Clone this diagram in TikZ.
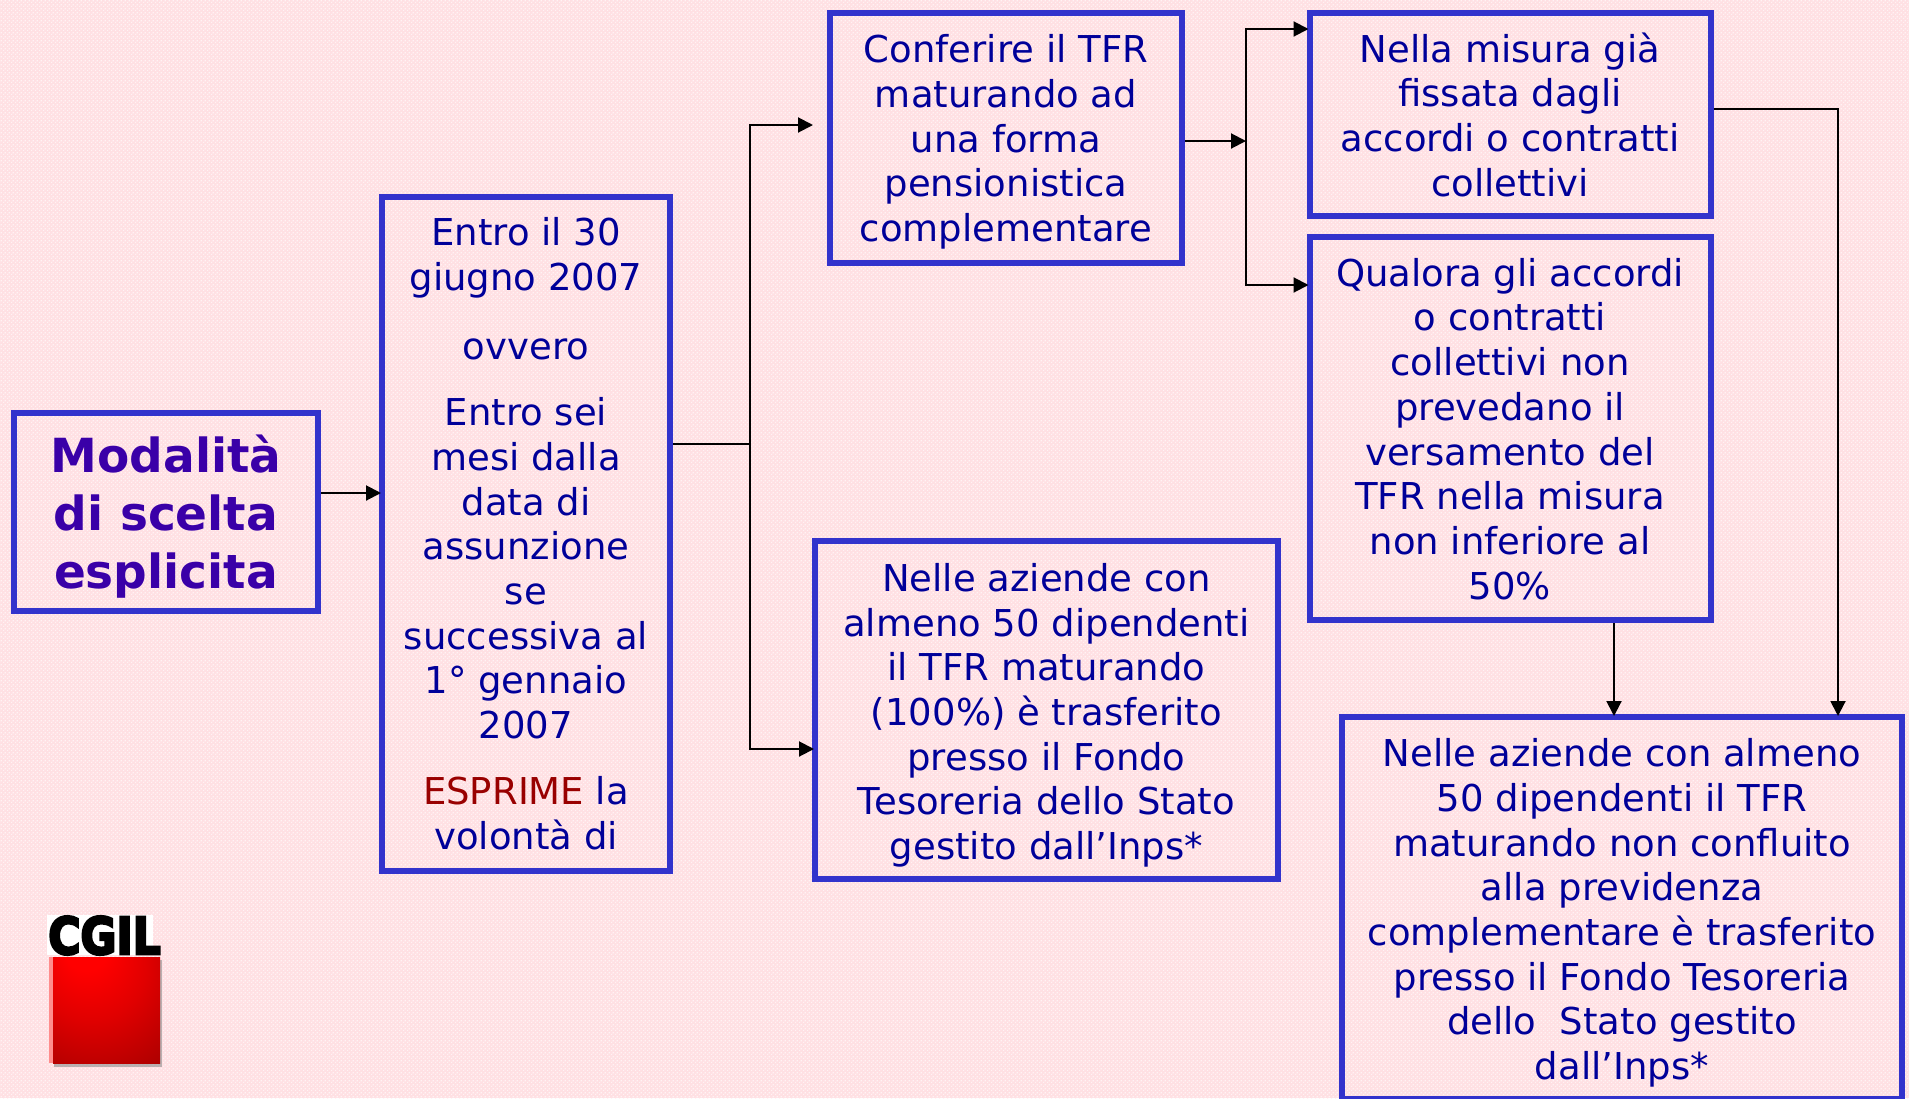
\documentclass[tikz,border=0pt]{standalone}
\usepackage{fontspec}
\setmainfont{DejaVu Sans}
\newfontfamily\logofont[FakeBold=5]{DejaVu Sans Bold}
\usetikzlibrary{arrows.meta,patterns}
\definecolor{bgpink}{HTML}{FFE0E3}
\definecolor{dotpink}{HTML}{FFF3F4}
\definecolor{boxblue}{HTML}{3333CC}
\definecolor{txtblue}{HTML}{000099}
\definecolor{titleblue}{HTML}{3A00A8}
\definecolor{esprime}{HTML}{990000}
\pgfdeclarepatternformonly{pinkdots}{\pgfpointorigin}{\pgfqpoint{4pt}{4pt}}{\pgfqpoint{4pt}{4pt}}{%
  \pgfpathrectangle{\pgfpointorigin}{\pgfqpoint{1.5pt}{1.5pt}}%
  \pgfpathrectangle{\pgfqpoint{2pt}{2pt}}{\pgfqpoint{1.5pt}{1.5pt}}%
  \pgfusepath{fill}}
\pgfdeclareradialshading{cgilred}{\pgfpoint{-11bp}{33bp}}{%
  rgb(0bp)=(1,0,0); rgb(10bp)=(1,0,0); rgb(26bp)=(0.88,0,0); rgb(46bp)=(0.69,0,0);
  rgb(62bp)=(0.5,0,0); rgb(74bp)=(0.3,0,0)}
\newcommand\tdn[1]{\rule{0pt}{#1pt}}
\tikzset{
  box/.style={draw=boxblue,line width=6pt,inner sep=0pt,align=center,text=txtblue,
    font=\fontsize{37}{44.7}\selectfont},
  titlebox/.style={box,text=titleblue,font=\fontsize{47}{58}\selectfont\bfseries},
  conn/.style={draw=black,line width=2pt},
  arr/.style={conn,shorten >=-2pt,-{Triangle[length=15pt,width=15pt]}},
}
\begin{document}
\begin{tikzpicture}[x=1pt,y=-1pt]
\useasboundingbox (0,0) rectangle (1909,1098);
\clip (0,0) rectangle (1909,1098);
\fill[bgpink] (0,0) rectangle (1909,1098);
\fill[pattern=pinkdots,pattern color=dotpink] (0,0) rectangle (1909,1098);
% boxes
\node[titlebox,minimum width=304pt,minimum height=198pt] (A) at (166,512) {\tdn{46}Modalità\\di scelta\\esplicita};
\node[box,minimum width=288pt,minimum height=674pt] (B) at (526,533.5) {Entro il 30\\giugno 2007\\[24pt]ovvero\\[22pt]Entro sei\\mesi dalla\\data di\\assunzione\\se\\successiva al\\1° gennaio\\2007\\[21pt]{\color{esprime}ESPRIME} la\\volontà di};
\node[box,minimum width=352pt,minimum height=250pt] (C) at (1006,137.5) {\tdn{37}Conferire il TFR\\maturando ad\\una forma\\pensionistica\\complementare};
\node[box,minimum width=401pt,minimum height=203pt] (D) at (1510,114.5) {\tdn{30}Nella misura già\\fissata dagli\\accordi o contratti\\collettivi};
\node[box,minimum width=401pt,minimum height=383pt] (E) at (1510,428.5) {\tdn{29}Qualora gli accordi\\o contratti\\collettivi non\\prevedano il\\versamento del\\TFR nella misura\\non inferiore al\\50\%};
\node[box,minimum width=463pt,minimum height=338pt] (F) at (1046.5,710) {\tdn{38.5}Nelle aziende con\\almeno 50 dipendenti\\il TFR maturando\\(100\%) è trasferito\\presso il Fondo\\Tesoreria dello Stato\\gestito dall’Inps*};
\node[box,minimum width=560pt,minimum height=382pt] (G) at (1622,908) {\tdn{38}Nelle aziende con almeno\\50 dipendenti il TFR\\maturando non confluito\\alla previdenza\\complementare è trasferito\\presso il Fondo Tesoreria\\dello\ \ Stato gestito\\dall’Inps*};
% connector helpers
\coordinate (ya) at (0,493);
\coordinate (j1) at (750,444);
\coordinate (c1) at (811,125);
\coordinate (yf) at (0,749);
\coordinate (j2) at (1246,141);
\coordinate (yd) at (0,29);
\coordinate (ye) at (0,285);
\coordinate (r1) at (1838,109);
\coordinate (xe) at (1614,0);
\draw[arr] (A.east |- ya) -- (B.west |- ya);
\draw[conn] (B.east |- j1) -- (j1);
\draw[arr] (j1) |- (c1);
\draw[arr] (j1) |- (F.west |- yf);
\draw[arr,shorten >=0pt] (C.east |- j2) -- (j2);
\draw[arr] (j2) |- (D.west |- yd);
\draw[arr] (j2) |- (E.west |- ye);
\draw[arr] (D.east |- r1) -| (r1 |- G.north);
\draw[arr] (E.south -| xe) -- (G.north -| xe);
% logo
\fill[white] (47,915) rectangle (153,955);
\fill[black!45,opacity=.6] (54,960) rectangle (162,1067);
\fill[red!45] (49,957) rectangle (56,1063);
\shade[shading=cgilred] (53,957) rectangle (160,1063);
\node[inner sep=0pt,text=black,xscale=.86,font=\fontsize{51}{51}\logofont] (logo) at (104.5,935.5) {CGIL};
\end{tikzpicture}
\end{document}
